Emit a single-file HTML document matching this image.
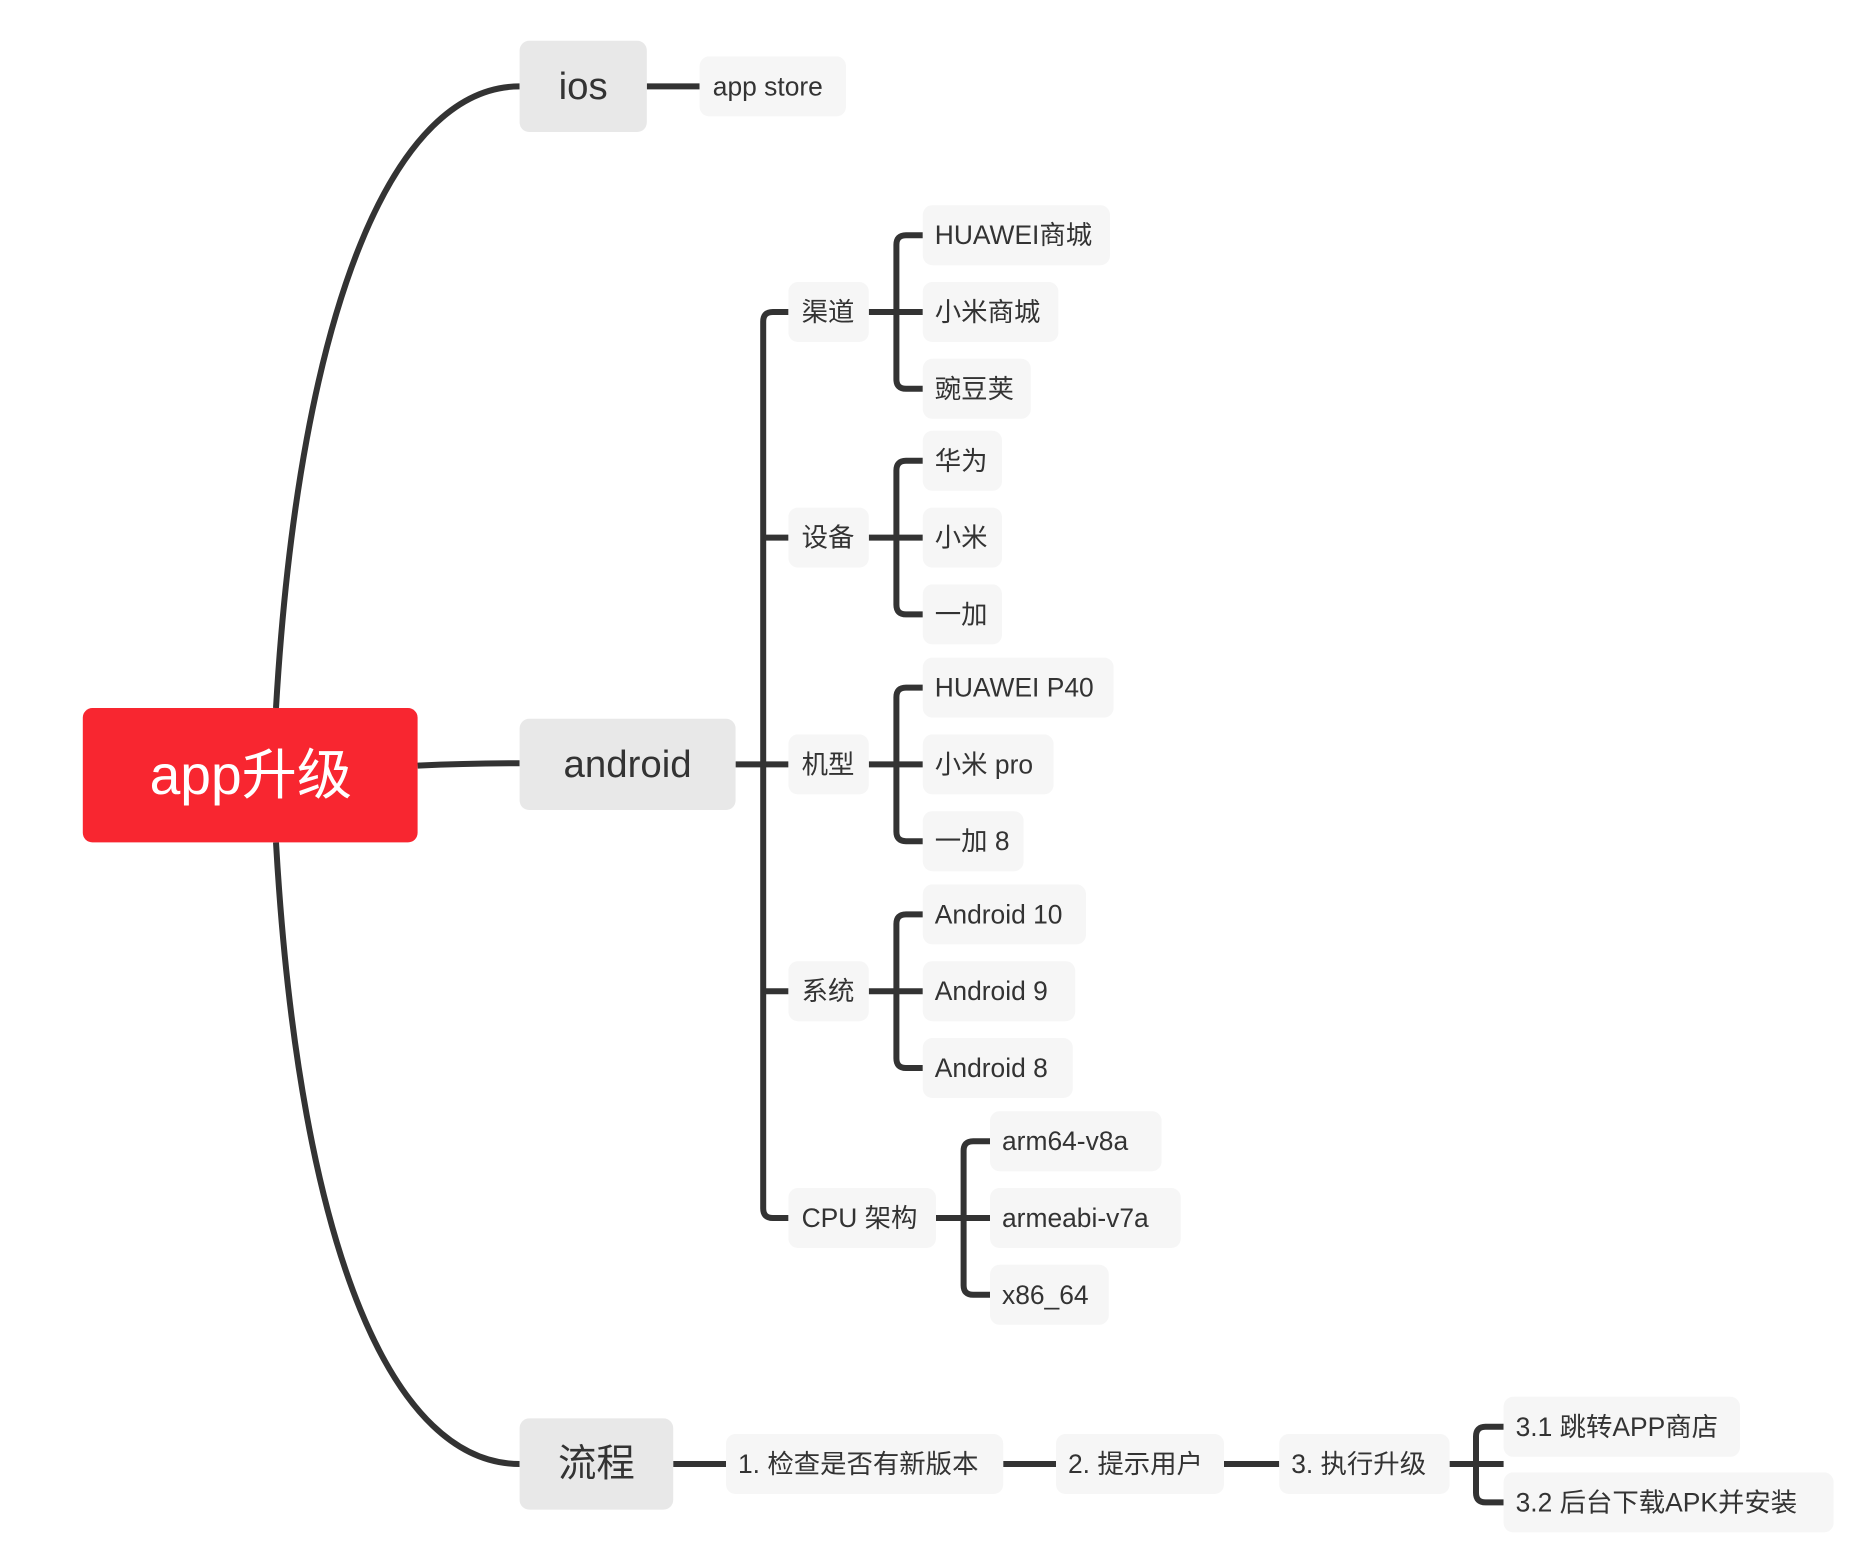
<!DOCTYPE html>
<html><head><meta charset="utf-8"><style>
html,body{margin:0;padding:0;background:#fff;}
svg{display:block;}
text{font-family:"Liberation Sans","Noto Sans CJK SC",sans-serif;fill:#333;dominant-baseline:central;}
</style></head><body>
<svg width="1860" height="1552" viewBox="0 0 1550 1293.33" xmlns="http://www.w3.org/2000/svg">
<g fill="none" stroke="#333" stroke-width="5" stroke-linecap="butt">
<path d="M230,590 C250,250 330,72 433,72"/>
<path d="M230,702 C250,1050 330,1220 433,1220"/>
<path d="M348,638 Q390,636 433,636"/>
<path d="M539,72 H583"/>
<path d="M613,637 H657"/>
<path d="M657,260 H644 Q636,260 636,268 V1007 Q636,1015 644,1015 H657"/>
<path d="M636,448 H657"/>
<path d="M636,826 H657"/>
<path d="M724,260 H769 M769,196 H755 Q747,196 747,204 V316 Q747,324 755,324 H769"/>
<path d="M724,448 H769 M769,384 H755 Q747,384 747,392 V504 Q747,512 755,512 H769"/>
<path d="M724,637 H769 M769,573 H755 Q747,573 747,581 V693 Q747,701 755,701 H769"/>
<path d="M724,826 H769 M769,762 H755 Q747,762 747,770 V882 Q747,890 755,890 H769"/>
<path d="M780,1015 H825 M825,951 H811 Q803,951 803,959 V1071 Q803,1079 811,1079 H825"/>
<path d="M561,1220 H605 M836,1220 H880 M1020,1220 H1066 M1208,1220 H1253"/>
<path d="M1253,1189 H1238 Q1230,1189 1230,1197 V1244 Q1230,1252 1238,1252 H1253"/>
</g>
<rect x="69" y="590" width="279" height="112" rx="8" fill="#F82630"/>
<text x="209" y="646" text-anchor="middle" font-size="46" style="fill:#fff">app升级</text>
<g fill="#E8E8E8">
<rect x="433" y="34" width="106" height="76" rx="8"/>
<rect x="433" y="599" width="180" height="76" rx="8"/>
<rect x="433" y="1182" width="128" height="76" rx="8"/>
</g>
<g font-size="32" text-anchor="middle">
<text x="486" y="72">ios</text>
<text x="523" y="637">android</text>
<text x="497" y="1220">流程</text>
</g>
<g fill="#F6F6F6">
<rect x="583" y="47" width="122" height="50" rx="8"/>
<rect x="657" y="235" width="67" height="50" rx="8"/>
<rect x="657" y="423" width="67" height="50" rx="8"/>
<rect x="657" y="612" width="67" height="50" rx="8"/>
<rect x="657" y="801" width="67" height="50" rx="8"/>
<rect x="657" y="990" width="123" height="50" rx="8"/>
<rect x="769" y="171" width="156" height="50" rx="8"/>
<rect x="769" y="235" width="113" height="50" rx="8"/>
<rect x="769" y="299" width="90" height="50" rx="8"/>
<rect x="769" y="359" width="66" height="50" rx="8"/>
<rect x="769" y="423" width="66" height="50" rx="8"/>
<rect x="769" y="487" width="66" height="50" rx="8"/>
<rect x="769" y="548" width="159" height="50" rx="8"/>
<rect x="769" y="612" width="109" height="50" rx="8"/>
<rect x="769" y="676" width="84" height="50" rx="8"/>
<rect x="769" y="737" width="136" height="50" rx="8"/>
<rect x="769" y="801" width="127" height="50" rx="8"/>
<rect x="769" y="865" width="125" height="50" rx="8"/>
<rect x="825" y="926" width="143" height="50" rx="8"/>
<rect x="825" y="990" width="159" height="50" rx="8"/>
<rect x="825" y="1054" width="99" height="50" rx="8"/>
<rect x="605" y="1195" width="231" height="50" rx="8"/>
<rect x="880" y="1195" width="140" height="50" rx="8"/>
<rect x="1066" y="1195" width="142" height="50" rx="8"/>
<rect x="1253" y="1164" width="197" height="50" rx="8"/>
<rect x="1253" y="1227" width="275" height="50" rx="8"/>
</g>
<g font-size="22">
<text x="594" y="72">app store</text>
<text x="668" y="260">渠道</text>
<text x="668" y="448">设备</text>
<text x="668" y="637">机型</text>
<text x="668" y="826">系统</text>
<text x="668" y="1015">CPU 架构</text>
<text x="779" y="196">HUAWEI商城</text>
<text x="779" y="260">小米商城</text>
<text x="779" y="324">豌豆荚</text>
<text x="779" y="384">华为</text>
<text x="779" y="448">小米</text>
<text x="779" y="512">一加</text>
<text x="779" y="573">HUAWEI P40</text>
<text x="779" y="637">小米 pro</text>
<text x="779" y="701">一加 8</text>
<text x="779" y="762">Android 10</text>
<text x="779" y="826">Android 9</text>
<text x="779" y="890">Android 8</text>
<text x="835" y="951">arm64-v8a</text>
<text x="835" y="1015">armeabi-v7a</text>
<text x="835" y="1079">x86_64</text>
<text x="615" y="1220">1. 检查是否有新版本</text>
<text x="890" y="1220">2. 提示用户</text>
<text x="1076" y="1220">3. 执行升级</text>
<text x="1263" y="1189">3.1 跳转APP商店</text>
<text x="1263" y="1252">3.2 后台下载APK并安装</text>
</g>
</svg>
</body></html>
